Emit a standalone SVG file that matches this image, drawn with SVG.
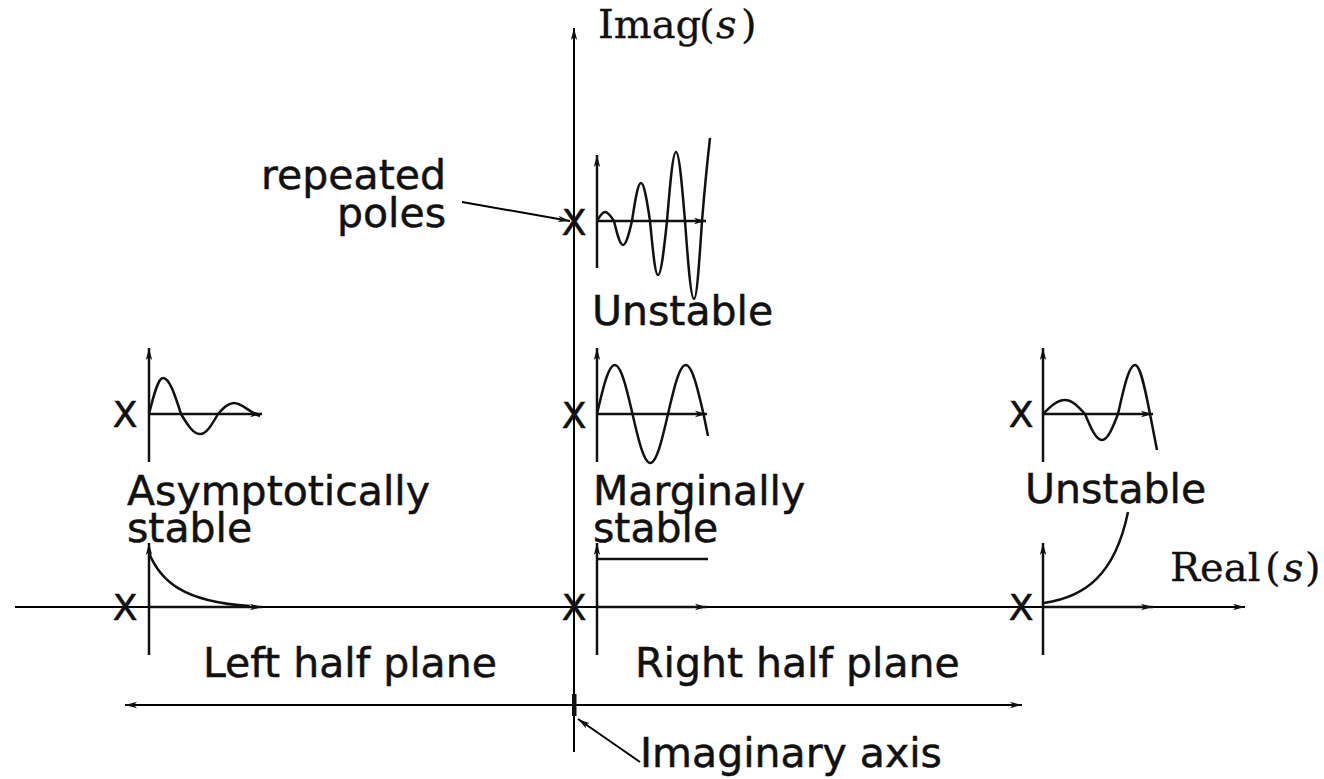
<svg xmlns="http://www.w3.org/2000/svg" width="1324" height="779" viewBox="0 0 1324 779">
<style>
.ax{stroke:#000;stroke-width:2;fill:none}
.sa{stroke:#111;stroke-width:2.5;fill:none}
.cv{stroke:#111;stroke-width:2.5;fill:none;stroke-linejoin:round}
.lbl{font-family:"DejaVu Sans","Liberation Sans",sans-serif;font-size:41px;fill:#111;stroke:#111;stroke-width:0.5}
.pole{font-family:"DejaVu Sans","Liberation Sans",sans-serif;font-size:36px;fill:#111;stroke:#111;stroke-width:0.6;text-anchor:middle}
.math{font-family:"DejaVu Serif","Liberation Serif",serif;font-size:40px;fill:#111;stroke:#111;stroke-width:0.3}
.it{font-style:italic}
</style>
<defs>
<marker id="ah" viewBox="0 0 12 8" refX="12" refY="4" markerWidth="12" markerHeight="8" orient="auto-start-reverse" markerUnits="userSpaceOnUse">
<path d="M0,0.8 L12,4 L0,7.2 L3,4 z" fill="#111"/>
</marker>
</defs>
<rect width="1324" height="779" fill="#fff"/>

<g id="axes">
<line class="ax" x1="574" y1="752" x2="574" y2="28" marker-end="url(#ah)"/>
<line class="ax" x1="15" y1="607" x2="1245" y2="607" marker-end="url(#ah)"/>
<text class="math" x="598" y="38">Imag<tspan x="699">(</tspan><tspan class="it" x="716">s</tspan><tspan x="741">)</tspan></text>
<text class="math" x="1170" y="581">Real<tspan x="1265">(</tspan><tspan class="it" x="1283">s</tspan><tspan x="1305">)</tspan></text>
</g>

<g id="plot-left-osc">
<text class="pole" x="125" y="427">X</text>
<line class="sa" x1="149" y1="462" x2="149" y2="348" marker-end="url(#ah)"/>
<line class="sa" x1="149" y1="414" x2="262" y2="414" marker-end="url(#ah)"/>
<path class="cv" d="M149,414 C153.7,395 158,378 163,378 C169.5,378 175,395 181,414 C187.3,424.5 193.2,434 200,434 C206.5,434 212,424.5 218,414 C223.3,408.2 228.2,403 234,403 C242,403 250,413 260,416"/>
</g>

<g id="plot-left-exp">
<text class="pole" x="125" y="620">X</text>
<line class="sa" x1="149" y1="655" x2="149" y2="543" marker-end="url(#ah)"/>
<line class="sa" x1="149" y1="607" x2="262" y2="607" marker-end="url(#ah)"/>
<path class="cv" d="M149,553 C160,580 182,602 250,606"/>
</g>

<g id="plot-mid-unstable">
<text class="pole" x="574" y="235">X</text>
<line class="sa" x1="597" y1="268" x2="597" y2="155" marker-end="url(#ah)"/>
<line class="sa" x1="597" y1="221" x2="706" y2="221" marker-end="url(#ah)"/>
<path class="cv" d="M597,221 C599.7,216.3 602.1,212 605,212 C608.2,212 611,216.3 614,221 C617,233.6 619.8,245 623,245 C626.2,245 629,233.6 632,221 C635,201 637.8,183 641,183 C644.2,183 647,201 650,221 C652.7,249.4 655.1,275 658,275 C661.2,275 664,249.4 667,221 C670,184.8 672.8,152 676,152 C679.2,152 682,184.8 685,221 C688,262 690.8,299 694,299 C696.9,299 699.3,262 702,221 C704.5,190 707.5,160 710,138"/>
</g>

<g id="plot-mid-osc">
<text class="pole" x="574" y="428">X</text>
<line class="sa" x1="597" y1="462" x2="597" y2="348" marker-end="url(#ah)"/>
<line class="sa" x1="597" y1="414" x2="707" y2="414" marker-end="url(#ah)"/>
<path class="cv" d="M597,414 C602.9,388.3 608.4,365 614.75,365 C621.1,365 626.6,388.3 632.5,414 C638.4,439.7 643.9,463 650.25,463 C656.6,463 662.1,439.7 668,414 C673.9,388.3 679.4,365 685.75,365 C692.1,365 697.6,388.3 703.5,414 L708,436"/>
</g>

<g id="plot-mid-step">
<text class="pole" x="574" y="620">X</text>
<line class="sa" x1="597" y1="655" x2="597" y2="543" marker-end="url(#ah)"/>
<line class="sa" x1="597" y1="607" x2="707" y2="607" marker-end="url(#ah)"/>
<line class="cv" x1="597" y1="559" x2="708" y2="559"/>
</g>

<g id="plot-right-osc">
<text class="pole" x="1021" y="427">X</text>
<line class="sa" x1="1043" y1="462" x2="1043" y2="348" marker-end="url(#ah)"/>
<line class="sa" x1="1043" y1="414" x2="1153" y2="414" marker-end="url(#ah)"/>
<path class="cv" d="M1043,414 C1050.3,406.6 1057.1,400 1065,400 C1072.2,400 1078.3,406.6 1085,414 C1090.7,427.7 1095.9,440 1102,440 C1107.8,440 1112.7,427.7 1118,414 C1123.7,388.3 1128.9,365 1135,365 C1140.4,365 1145,388.3 1150,414 L1157,450"/>
</g>

<g id="plot-right-exp">
<text class="pole" x="1021" y="620">X</text>
<line class="sa" x1="1043" y1="655" x2="1043" y2="543" marker-end="url(#ah)"/>
<line class="sa" x1="1043" y1="607" x2="1153" y2="607" marker-end="url(#ah)"/>
<path class="cv" d="M1044,603 C1085,597 1115,575 1128,512"/>
</g>

<g id="labels">
<text class="lbl" text-anchor="end"><tspan x="446" y="189">repeated</tspan><tspan x="446" y="227">poles</tspan></text>
<text class="lbl" x="592" y="325">Unstable</text>
<text class="lbl" font-size="42"><tspan x="127" y="505">Asymptotically</tspan><tspan x="127" y="542">stable</tspan></text>
<text class="lbl"><tspan x="593" y="505">Marginally</tspan><tspan x="593" y="542">stable</tspan></text>
<text class="lbl" x="1025" y="503">Unstable</text>
<text class="lbl" x="203" y="677">Left half plane</text>
<text class="lbl" x="635" y="677">Right half plane</text>
<text class="lbl" x="640" y="767" font-size="44">Imaginary axis</text>
</g>

<g id="connectors">
<line class="ax" x1="125" y1="705" x2="1022" y2="705" marker-start="url(#ah)" marker-end="url(#ah)"/>
<rect x="572" y="694" width="4.5" height="22" fill="#111"/>
<line class="ax" x1="462" y1="202" x2="570" y2="221" marker-end="url(#ah)"/>
<line class="ax" x1="640" y1="762" x2="578" y2="719" marker-end="url(#ah)"/>
</g>
</svg>
